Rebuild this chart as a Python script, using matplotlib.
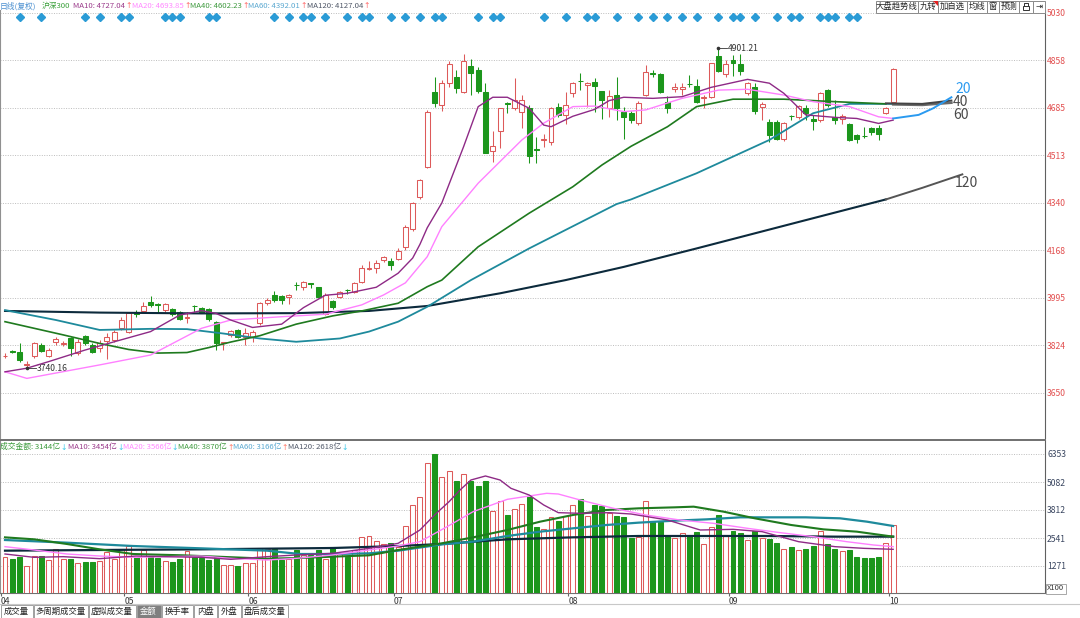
import matplotlib
matplotlib.use('Agg')
import matplotlib.pyplot as plt
from matplotlib.patches import Rectangle, Polygon
import numpy as np

plt.rcParams['font.family'] = ['Noto Sans CJK SC', 'DejaVu Sans']

# ---- data ----
open_ = [3784, 3802, 3800, 3752, 3784, 3824, 3784, 3836, 3828, 3848,
         3796, 3857, 3824, 3812, 3840, 3843, 3885, 3873, 3944, 3949,
         3982, 3972, 3951, 3954, 3944, 3924, 3967, 3957, 3954, 3909,
         3832, 3861, 3879, 3855, 3852, 3903, 3976, 4006, 4002, 3997,
         4044, 4034, 4049, 4034, 3937, 3985, 4000, 4025, 4018, 4054,
         4101, 4103, 4133, 4131, 4135, 4179, 4244, 4361, 4470, 4742,
         4696, 4775, 4796, 4744, 4839, 4823, 4744, 4530, 4603, 4702,
         4686, 4672, 4684, 4536, 4570, 4563, 4690, 4660, 4738, 4784,
         4767, 4781, 4746, 4684, 4732, 4672, 4668, 4629, 4732, 4812,
         4808, 4708, 4753, 4753, 4773, 4765, 4720, 4726, 4874, 4808,
         4859, 4845, 4741, 4763, 4690, 4635, 4635, 4571, 4657, 4651,
         4684, 4644, 4641, 4750, 4654, 4644, 4627, 4587, 4584, 4611,
         4611, 4668, 4708]
close_ = [3786, 3800, 3770, 3755, 3830, 3803, 3806, 3845, 3833, 3812,
          3836, 3830, 3800, 3830, 3855, 3873, 3915, 3939, 3938, 3966,
          3968, 3970, 3973, 3937, 3917, 3926, 3965, 3942, 3917, 3830,
          3834, 3876, 3855, 3867, 3873, 3976, 3988, 3988, 3988, 4006,
          4042, 4052, 4047, 4000, 4006, 3961, 4017, 4023, 4048, 4103,
          4104, 4123, 4143, 4115, 4167, 4252, 4339, 4422, 4672, 4704,
          4775, 4845, 4756, 4857, 4811, 4748, 4520, 4547, 4684, 4700,
          4714, 4714, 4511, 4534, 4572, 4684, 4660, 4696, 4775, 4782,
          4777, 4766, 4713, 4729, 4684, 4654, 4641, 4704, 4817, 4810,
          4744, 4684, 4760, 4760, 4771, 4708, 4726, 4847, 4821, 4845,
          4850, 4821, 4775, 4675, 4700, 4587, 4571, 4629, 4655, 4692,
          4668, 4639, 4741, 4696, 4641, 4656, 4569, 4571, 4582, 4599,
          4591, 4684, 4825]
high_ = [3794, 3806, 3830, 3766, 3836, 3830, 3812, 3855, 3840, 3855,
         3845, 3861, 3830, 3842, 3867, 3879, 3927, 3942, 3951, 3980,
         4002, 3976, 3976, 3958, 3949, 3945, 3970, 3961, 3958, 3913,
         3837, 3879, 3882, 3885, 3879, 3979, 3994, 4022, 4006, 4010,
         4054, 4058, 4050, 4036, 4014, 3988, 4022, 4027, 4054, 4115,
         4130, 4133, 4148, 4139, 4175, 4260, 4345, 4426, 4678, 4799,
         4787, 4857, 4823, 4881, 4862, 4833, 4775, 4603, 4684, 4708,
         4793, 4732, 4696, 4581, 4591, 4690, 4704, 4744, 4781, 4811,
         4781, 4793, 4748, 4750, 4796, 4690, 4675, 4712, 4841, 4823,
         4811, 4729, 4775, 4777, 4805, 4789, 4732, 4850, 4901.21, 4859,
         4878, 4881, 4781, 4775, 4708, 4644, 4641, 4635, 4660, 4696,
         4696, 4660, 4744, 4753, 4714, 4663, 4629, 4591, 4617, 4617,
         4623, 4690, 4829]
low_ = [3776, 3796, 3764, 3740.16, 3776, 3800, 3779, 3824, 3822, 3784,
        3788, 3824, 3796, 3800, 3772, 3836, 3879, 3867, 3927, 3944,
        3964, 3940, 3945, 3930, 3915, 3905, 3945, 3940, 3913, 3806,
        3806, 3855, 3849, 3824, 3837, 3897, 3970, 3982, 3973, 3973,
        4024, 4024, 4030, 3994, 3933, 3955, 3994, 4010, 4012, 4048,
        4097, 4087, 4127, 4097, 4133, 4170, 4239, 4354, 4466, 4690,
        4675, 4763, 4738, 4738, 4732, 4738, 4520, 4490, 4539, 4666,
        4678, 4611, 4484, 4486, 4542, 4551, 4654, 4627, 4726, 4750,
        4690, 4672, 4644, 4651, 4642, 4571, 4632, 4622, 4729, 4799,
        4741, 4668, 4744, 4732, 4763, 4702, 4684, 4720, 4817, 4796,
        4801, 4805, 4732, 4663, 4642, 4563, 4569, 4566, 4642, 4644,
        4641, 4605, 4635, 4690, 4627, 4627, 4566, 4559, 4575, 4587,
        4569, 4663, 4704]
amount = [1665, 1603, 1694, 1270, 1724, 1724, 1543, 2056, 1573, 1603,
          1392, 1467, 1437, 1482, 1906, 1573, 2026, 2178, 1665, 1997,
          1694, 1634, 1482, 1452, 1603, 1936, 1665, 1634, 1543, 1694,
          1300, 1300, 1270, 1421, 1392, 2088, 2026, 2056, 1543, 1603,
          1997, 1785, 1754, 1997, 1573, 2148, 1815, 1694, 1997, 2570,
          2632, 2390, 2268, 2299, 2148, 3086, 4024, 4417, 5960, 6353,
          5324, 5566, 5143, 5445, 5143, 4901, 5143, 3752, 4206, 3600,
          3873, 4084, 4387, 3055, 2965, 3509, 3297, 3540, 4054, 4297,
          3540, 4054, 3994, 3691, 3540, 3509, 2541, 2571, 4206, 3267,
          3267, 2632, 2541, 2753, 2632, 2813, 2268, 3055, 3600, 2662,
          2844, 2753, 2450, 2844, 2541, 2480, 2299, 2026, 2148, 1997,
          2026, 2178, 2844, 2268, 2056, 1936, 1997, 1694, 1634, 1634,
          1694, 2329, 3144]

# moving average lines, sampled along the chart (candle index, value)
ma10_x = [0, 3, 6, 11, 15, 20, 24, 27, 29, 31, 34, 38, 41, 44, 47, 51, 54, 56, 57, 58,
          60, 63, 65, 67, 69, 72, 74, 75, 78, 81, 83, 85, 89, 93, 97, 102, 105, 107, 110, 114,
          117, 120, 122]
ma10_y = [3727, 3740, 3764, 3806, 3836, 3873, 3933, 3949, 3939, 3915, 3888, 3900, 3960, 4005, 4012,
          4034, 4085, 4140, 4190, 4250, 4340, 4545, 4690, 4724, 4724, 4684, 4623, 4617, 4655, 4680,
          4712, 4724, 4720, 4726, 4760, 4789, 4775, 4738, 4660, 4651, 4647, 4629, 4641]
ma20_x = [0, 3, 13, 20, 27, 31, 38, 44, 49, 52, 55, 58, 60, 65, 71, 74, 78, 81, 85, 88,
          93, 98, 102, 107, 111, 116, 120, 122]
ma20_y = [3727, 3703, 3752, 3788, 3885, 3915, 3927, 3936, 3970, 4006, 4050, 4145, 4254, 4412,
          4569, 4630, 4690, 4692, 4672, 4678, 4720, 4750, 4753, 4732, 4708, 4690, 4653, 4647]
ma40_x = [0, 4, 8, 13, 17, 21, 25, 28, 31, 35, 40, 45, 49, 54, 58, 60, 65, 72, 78, 82,
          86, 91, 95, 100, 107, 114, 121]
ma40_y = [3909, 3885, 3861, 3830, 3808, 3795, 3797, 3815, 3835, 3858, 3900, 3930, 3948, 3976,
          4036, 4060, 4181, 4303, 4399, 4478, 4546, 4617, 4690, 4717, 4717, 4708, 4700]
ma60_x = [0, 7, 13, 20, 25, 30, 35, 40, 46, 50, 54, 58, 64, 72, 84, 86, 95, 105, 111, 116, 122]
ma60_y = [3951, 3915, 3879, 3883, 3882, 3866, 3848, 3836, 3848, 3873, 3909, 3963, 4060, 4175,
          4336, 4353, 4448, 4569, 4666, 4700, 4700]
ma120_x = [0, 13, 27, 40, 50, 58, 68, 77, 85, 95, 109, 121]
ma120_y = [3948, 3942, 3939, 3940, 3948, 3966, 4012, 4060, 4108, 4175, 4271, 4353]

# forecast tails to the right of the last candle
proj20_x = [122, 125.5, 127.5, 130]
proj20_y = [4647, 4660, 4684, 4724]
proj40_x = [121, 126, 130]
proj40_y = [4702, 4700, 4712]
proj60_x = [122, 126, 130]
proj60_y = [4698, 4696, 4704]
proj120_x = [121, 126, 131.5]
proj120_y = [4353, 4395, 4444]

vma10_x = [0, 4, 8, 13, 18, 22, 27, 31, 36, 40, 45, 50, 54, 57, 59, 61, 62.5, 64, 66, 68,
           69.5, 72, 74, 76, 79, 83, 86, 91, 95.5, 100, 104, 109, 114, 118, 122]
vma10_y = [1815, 1664, 1694, 1603, 1724, 1694, 1664, 1573, 1694, 1770, 1845, 2072, 2299, 2904,
           3585, 4190, 4719, 5173, 5355, 5173, 4795, 4492, 4039, 3691, 3661, 3691, 3630, 3358,
           2904, 2934, 2829, 2375, 2148, 2072, 2027]
vma20_x = [0, 4, 8.5, 13, 18, 22, 27, 31, 36, 40, 45, 50, 54, 57, 60.7, 64.3, 69, 74.4, 76, 79,
           83.6, 88, 92.7, 97.3, 102, 106.5, 111, 115.6, 119.3, 122]
vma20_y = [2148, 1997, 1815, 1724, 1664, 1694, 1724, 1618, 1543, 1618, 1770, 1997, 2178, 2375,
           3050, 3736, 4296, 4568, 4538, 4266, 3887, 3585, 3358, 3207, 2980, 2783, 2602, 2375,
           2224, 2148]
vma40_x = [0, 4, 8.5, 13, 17.6, 24.5, 31.4, 36, 40.5, 45, 50, 54, 57, 60, 64.3, 69, 73.5, 78,
           82.6, 87, 92, 94.6, 98.7, 103, 108, 112.4, 117, 122]
vma40_y = [2571, 2481, 2269, 2027, 1815, 1755, 1664, 1603, 1634, 1694, 1755, 1997, 2148, 2300,
           2571, 2904, 3282, 3585, 3812, 3887, 3933, 3963, 3736, 3434, 3131, 2934, 2829, 2602]
vma60_x = [0, 8.5, 17.6, 27, 36, 40.5, 45, 50, 54, 60, 64.3, 69, 73.5, 78, 82.6, 87, 92, 96.4,
           101, 106, 110, 114.7, 118.4, 122]
vma60_y = [2450, 2329, 2178, 2072, 1966, 1815, 1815, 1845, 1966, 2250, 2375, 2632, 2829, 2980,
           3131, 3237, 3328, 3388, 3479, 3479, 3479, 3434, 3282, 3086]
vma120_x = [0, 13, 27, 36, 45, 54, 60, 69, 78, 87, 105, 114, 122]
vma120_y = [1966, 1997, 2027, 2057, 2087, 2178, 2269, 2481, 2571, 2632, 2632, 2602, 2602]

signal_idx = [2, 5, 11, 13, 16, 17, 22, 23, 24, 28, 29, 37, 39, 41, 42, 44, 47, 49, 50, 53,
              55, 57, 59, 60, 65, 67, 68, 74, 77, 80, 81, 84, 87, 89, 91, 93, 95, 98, 100, 101,
              103, 106, 108, 109, 112, 113, 114, 116, 117]

price_ticks = [3650, 3824, 3995, 4168, 4340, 4513, 4685, 4858, 5030]
vol_ticks = [1271, 2541, 3812, 5082, 6353]
month_labels = ['04', '05', '06', '07', '08', '09', '10']
month_start = [0, 17, 34, 54, 78, 100, 122]

# header rows: (text, colour, arrow, arrow colour)
header_parts = [('日线(复权)', '#4a8fd0', '', ''), ('沪深300', '#3aa03a', '', ''),
                ('MA10: 4727.04', '#9a3a8a', '↑', '#ff6a6a'),
                ('MA20: 4693.85', '#ff88ff', '↑', '#ff6a6a'),
                ('MA40: 4602.23', '#3f9a3f', '↑', '#ff6a6a'),
                ('MA60: 4392.01', '#5aa8d0', '↑', '#ff6a6a'),
                ('MA120: 4127.04', '#505868', '↑', '#ff6a6a')]
header_x = [0, 42, 73, 132, 190, 248, 307]
vol_header_parts = [('成交金额: 3144亿', '#3a9a3a', '↓', '#40c8e8'),
                    ('MA10: 3454亿', '#9a3a8a', '↓', '#40c8e8'),
                    ('MA20: 3566亿', '#ff88ff', '↓', '#40c8e8'),
                    ('MA40: 3870亿', '#3f9a3f', '↑', '#ff7a6a'),
                    ('MA60: 3166亿', '#5aa8d0', '↑', '#ff7a6a'),
                    ('MA120: 2618亿', '#505868', '↓', '#40c8e8')]
vol_header_x = [0, 68, 123, 178, 233, 288]
buttons = ['大盘趋势线', '九转', '加自选', '均线', '窗', '预测', '', '⇥']
tabs = ['成交量', '多周期成交量', '虚拟成交量', '金额', '换手率', '内盘', '外盘', '盘后成交量']

# ---- layout (pixels) ----
W, H = 1080, 618
STEP = 7.28          # pixels per candle
X0 = 5               # pixel of first candle
RIGHT = 1045         # right axis line
PPX = 0.27536        # pixels per index point
VPX = 0.022037       # pixels per 亿

RED = '#dd5a5a'
GREEN = '#1c961c'
C10, C20, C40, C60, C120 = '#8e2a86', '#ff80ff', '#1f7a1f', '#1e8a9c', '#0c2a3c'


def rect(x0, y0, x1, y1):
    return [x0 / W, 1 - y1 / H, (x1 - x0) / W, (y1 - y0) / H]


def price_at(y):
    return 5030 - (y - 13) / PPX


def vol_at(y):
    return (594 - y) / VPX


fig = plt.figure(figsize=(W / 100, H / 100), dpi=100)
fig.patch.set_facecolor('white')
xlim = (-X0 / STEP, (RIGHT - X0) / STEP)

o = np.array(open_, float)
c = np.array(close_, float)
hi = np.array(high_, float)
lo = np.array(low_, float)
idx = np.arange(len(c))
up = c >= o
edge = np.where(up, RED, GREEN)
face = np.where(up, 'white', GREEN)
b_lo = np.minimum(o, c)
b_hi = np.maximum(o, c)

# ---- price panel ----
ax = fig.add_axes(rect(0, 10, RIGHT, 438))
ax.set_xlim(*xlim)
ax.set_ylim(price_at(438), price_at(10))
ax.set_axisbelow(True)
ax.grid(axis='y', color='#bdbdbd', lw=0.7, ls=(0, (1, 1.5)))

ax.vlines(idx, b_hi, hi, colors=edge, lw=0.75, zorder=2)
ax.vlines(idx, lo, b_lo, colors=edge, lw=0.75, zorder=2)
ax.bar(idx, np.maximum(b_hi - b_lo, 0.6), bottom=b_lo, width=0.68,
       color=face, edgecolor=edge, linewidth=0.75, zorder=3)

ax.plot(ma120_x, ma120_y, color=C120, lw=1.5, zorder=4)
ax.plot(ma60_x, ma60_y, color=C60, lw=1.3, zorder=4)
ax.plot(ma40_x, ma40_y, color=C40, lw=1.2, zorder=4)
ax.plot(ma20_x, ma20_y, color=C20, lw=1.0, zorder=4)
ax.plot(ma10_x, ma10_y, color=C10, lw=1.0, zorder=4)

ax.plot(proj120_x, proj120_y, color='#555555', lw=1.4, zorder=4)
ax.plot(proj60_x, proj60_y, color='#6a6a6a', lw=1.8, zorder=4)
ax.plot(proj40_x, proj40_y, color='#444444', lw=1.4, zorder=4)
ax.plot(proj20_x, proj20_y, color='#2a9af0', lw=1.4, zorder=4)
ax.text(130.5, price_at(89), '20', color='#2a9af0', fontsize=10, va='center', ha='left')
ax.text(130.2, price_at(102), '40', color='#4a4a4a', fontsize=10, va='center', ha='left')
ax.text(130.2, price_at(115), '60', color='#4a4a4a', fontsize=10, va='center', ha='left')
ax.text(130.5, price_at(183), '120', color='#4a4a4a', fontsize=10, va='center', ha='left')

# signal diamonds along the top
ax.plot(signal_idx, [price_at(16.7)] * len(signal_idx), ls='none', marker='D',
        ms=3.6, color='#2a9bd6', zorder=5)

# highest / lowest marks
i_hi = int(np.argmax(hi))
i_lo = int(np.argmin(lo))
ax.plot([i_hi, i_hi + 1.2], [hi[i_hi]] * 2, color='#333333', lw=0.6, zorder=5)
ax.plot(i_hi, hi[i_hi], marker='o', ms=1.6, color='#333333', zorder=5)
ax.text(i_hi + 1.3, hi[i_hi], f'{hi[i_hi]:.2f}', fontsize=6.2, color='#333333',
        va='center', ha='left')
ax.plot([i_lo, i_lo + 1.2], [lo[i_lo]] * 2, color='#333333', lw=0.6, zorder=5)
ax.plot(i_lo, lo[i_lo], marker='o', ms=1.6, color='#333333', zorder=5)
ax.text(i_lo + 1.3, lo[i_lo], f'{lo[i_lo]:.2f}', fontsize=6.2, color='#333333',
        va='center', ha='left')

ax.yaxis.tick_right()
ax.set_yticks(price_ticks)
ax.set_yticklabels([str(t) for t in price_ticks])
ax.tick_params(axis='y', length=0, pad=1.5, labelsize=6.2, labelcolor='#e25050')
ax.set_xticks([])
ax.spines['top'].set_visible(False)
ax.spines['bottom'].set_visible(False)
ax.spines['left'].set_color('#909090')
ax.spines['right'].set_color('#606060')

# ---- amount panel ----
axv = fig.add_axes(rect(0, 440, RIGHT, 593))
axv.set_xlim(*xlim)
axv.set_ylim(vol_at(593), vol_at(440))
axv.set_axisbelow(True)
axv.grid(axis='y', color='#bdbdbd', lw=0.7, ls=(0, (1, 1.5)))
axv.bar(idx, amount, width=0.68, color=face, edgecolor=edge, linewidth=0.75, zorder=3)
axv.plot(vma120_x, vma120_y, color=C120, lw=1.6, zorder=4)
axv.plot(vma60_x, vma60_y, color=C60, lw=1.6, zorder=4)
axv.plot(vma40_x, vma40_y, color=C40, lw=1.5, zorder=4)
axv.plot(vma20_x, vma20_y, color=C20, lw=1.0, zorder=4)
axv.plot(vma10_x, vma10_y, color=C10, lw=1.0, zorder=4)

axv.yaxis.tick_right()
axv.set_yticks(vol_ticks)
axv.set_yticklabels([str(t) for t in vol_ticks])
axv.tick_params(axis='y', length=0, pad=1.5, labelsize=6.2, labelcolor='#3a4660')
axv.set_xticks([m - 0.6 for m in month_start])
axv.set_xticklabels(month_labels)
axv.tick_params(axis='x', length=2.5, pad=0.5, labelsize=6.2, labelcolor='#333333',
                color='#666666')
for lbl in axv.get_xticklabels():
    lbl.set_ha('left')
axv.spines['top'].set_color('#707070')
axv.spines['top'].set_linewidth(1.4)
axv.spines['bottom'].set_color('#707070')
axv.spines['left'].set_color('#909090')
axv.spines['right'].set_color('#606060')

# ---- overlay in pixel coordinates: headers, buttons, tabs ----
ov = fig.add_axes([0, 0, 1, 1], zorder=10)
ov.set_xlim(0, W)
ov.set_ylim(H, 0)
ov.axis('off')
ov.patch.set_alpha(0)
renderer = fig.canvas.get_renderer()


def row_text(xs, y, parts, size):
    # each label starts where the reference has it; its arrow hugs the label's end
    for x, (s, col, arrow, acol) in zip(xs, parts):
        t = ov.text(x, y, s, color=col, fontsize=size, va='center', ha='left')
        if arrow:
            end = t.get_window_extent(renderer=renderer).x1
            ov.text(end + 0.3, y, arrow, color=acol, fontsize=size, va='center',
                    ha='left', family='DejaVu Sans')


row_text(header_x, 6, header_parts, 5.6)
row_text(vol_header_x, 447, vol_header_parts, 5.6)

btn_edges = [876, 918, 938, 967, 987, 999, 1019, 1033, 1045]
for k, name in enumerate(buttons):
    x0, x1 = btn_edges[k], btn_edges[k + 1]
    ov.add_patch(Rectangle((x0, 0.5), x1 - x0, 12, facecolor='white',
                           edgecolor='#8a8a8a', lw=0.7))
    if name:
        ov.text((x0 + x1) / 2, 6.5, name, fontsize=6.0, color='#222222',
                ha='center', va='center')
    if name == '九转':
        ov.add_patch(Polygon([[x1 - 5, 0.5], [x1, 0.5], [x1, 5.5]], closed=True,
                             facecolor='#e02020', edgecolor='none'))
# lock glyph
ov.add_patch(Rectangle((1023, 5.5), 6, 4.5, facecolor='none', edgecolor='#333333', lw=0.7))
ov.plot([1024.3, 1024.3, 1027.7, 1027.7], [5.5, 2.5, 2.5, 5.5], color='#333333', lw=0.7)

ov.text(1047, 588.5, 'X100', fontsize=5.5, color='#333333', va='center', ha='left')
ov.add_patch(Rectangle((1045.5, 583.5), 20, 10, facecolor='none', edgecolor='#9a9a9a', lw=0.6))

ov.plot([0, W], [604, 604], color='#c8c8c8', lw=0.8)
tab_edges = [0, 33, 88, 136, 161, 193, 217, 241, 288]
for k, name in enumerate(tabs):
    x0, x1 = tab_edges[k], tab_edges[k + 1]
    sel = name == '金额'
    ov.add_patch(Rectangle((x0 + 0.5, 605), x1 - x0 - 1, 13,
                           facecolor='#7f7f7f' if sel else 'white',
                           edgecolor='#a0a0a0', lw=0.7))
    ov.text((x0 + x1) / 2, 611.5, name, fontsize=6.0,
            color='white' if sel else '#222222', ha='center', va='center')

fig.savefig('out.png', dpi=100)
